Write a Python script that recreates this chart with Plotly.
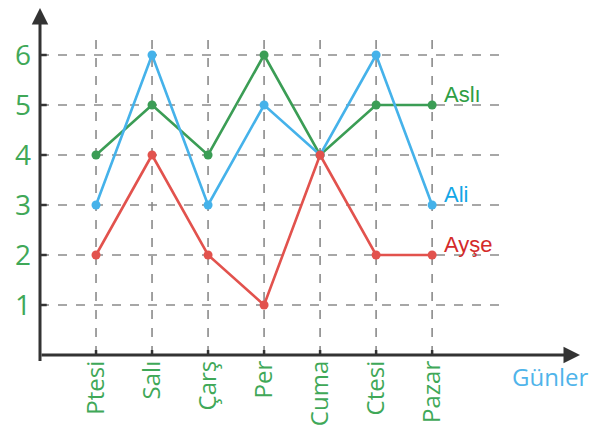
import plotly.graph_objects as go

days = ["Ptesi", "Salı", "Çarş", "Per", "Cuma", "Ctesi", "Pazar"]
asli = [4, 5, 4, 6, 4, 5, 5]
ali = [3, 6, 3, 5, 4, 6, 3]
ayse = [2, 4, 2, 1, 4, 2, 2]
y_ticks = [1, 2, 3, 4, 5, 6]

x_idx = list(range(len(days)))
X0, X1 = -1, 8.64
Y0, Y1 = 0, 6.94
GRID_X_END = 7.2
GRID_Y_TOP = 6.3

fig = go.Figure()

shapes = []
grid = dict(color="#8a8a8a", width=1.6, dash="dash")
for v in y_ticks:
    shapes.append(dict(type="line", xref="x", yref="y", x0=X0, x1=GRID_X_END, y0=v, y1=v, line=grid, layer="below"))
    shapes.append(dict(type="line", xref="x", yref="y", x0=X0 - 0.12, x1=X0 + 0.12, y0=v, y1=v,
                       line=dict(color="#333", width=2.5)))
for i in x_idx:
    shapes.append(dict(type="line", xref="x", yref="y", x0=i, x1=i, y0=0, y1=GRID_Y_TOP, line=grid, layer="below"))
    shapes.append(dict(type="line", xref="x", yref="y", x0=i, x1=i, y0=-0.1, y1=0.1,
                       line=dict(color="#333", width=2.5)))

series = [
    ("Aslı", asli, "#3b9d55", "#2e9e44"),
    ("Ali", ali, "#45b2ea", "#12a6e6"),
    ("Ayşe", ayse, "#e2524d", "#d42a2a"),
]
for name, vals, lc, tc in series:
    fig.add_trace(go.Scatter(x=x_idx, y=vals, mode="lines+markers", name=name,
                             line=dict(color=lc, width=2.6),
                             marker=dict(color=lc, size=9), showlegend=False))

annotations = []
for name, vals, lc, tc in series:
    annotations.append(dict(x=x_idx[-1], y=vals[-1], xref="x", yref="y", text=name, showarrow=False,
                            xanchor="left", yanchor="bottom", xshift=10, yshift=-4,
                            font=dict(family="Liberation Sans", size=22, color=tc)))

# axes with arrows
annotations.append(dict(x=X1, y=0, ax=X0, ay=0, xref="x", yref="y", axref="x", ayref="y", text="",
                        showarrow=True, arrowhead=2, arrowsize=1.1, arrowwidth=3, arrowcolor="#333"))
annotations.append(dict(x=X0, y=Y1, ax=X0, ay=Y0 - 0.15, xref="x", yref="y", axref="x", ayref="y", text="",
                        showarrow=True, arrowhead=2, arrowsize=1.1, arrowwidth=3, arrowcolor="#333"))
annotations.append(dict(x=8.1, y=-0.01, xref="x", yref="paper", text="Günler", showarrow=False,
                        xanchor="center", yanchor="top",
                        font=dict(family="Open Sans", size=24, color="#4fb4ea")))

fig.update_layout(
    width=606, height=439,
    margin=dict(l=32, r=34, t=0, b=92),
    paper_bgcolor="white", plot_bgcolor="white",
    shapes=shapes, annotations=annotations,
    xaxis=dict(range=[X0, X1], tickmode="array", tickvals=x_idx, ticktext=days, tickangle=-90,
               showgrid=False, zeroline=False, showline=False, ticks="", automargin=False,
               tickfont=dict(family="Open Sans", size=24, color="#3fa858")),
    yaxis=dict(range=[Y0, Y1], tickmode="array", tickvals=y_ticks, ticktext=[str(v) for v in y_ticks],
               showgrid=False, zeroline=False, showline=False, ticks="", ticklabelstandoff=8,
               automargin=False,
               tickfont=dict(family="Open Sans", size=28, color="#3fa858")),
)

fig.write_html("out.html")
